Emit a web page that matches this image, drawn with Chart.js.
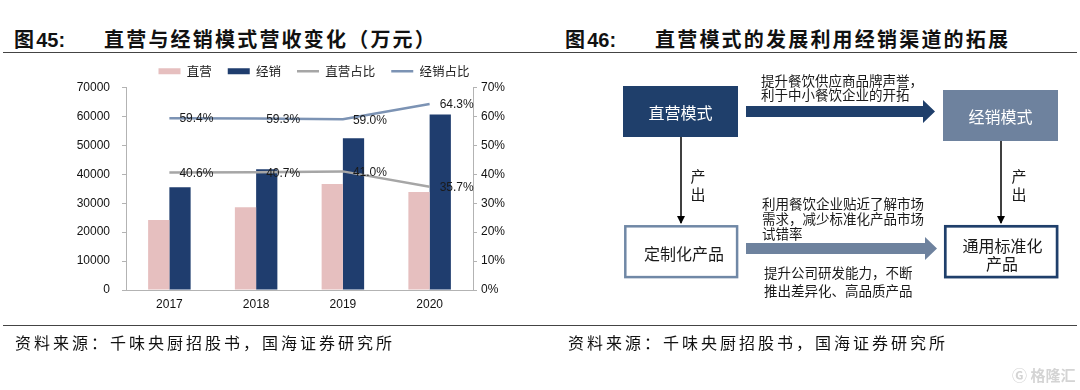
<!DOCTYPE html>
<html>
<head>
<meta charset="utf-8">
<script src="https://cdn.jsdelivr.net/npm/chart.js@4.4.1/dist/chart.umd.min.js"></script>
<style>
  html, body { margin: 0; padding: 0; background: #fff; }
  #page { position: relative; width: 1080px; height: 390px; overflow: hidden; font-family: "Noto Sans CJK SC", sans-serif; }
  .title { position: absolute; top: 26px; font-size: 20px; font-weight: bold; color: #111; letter-spacing: 2.2px; line-height: 26px; white-space: nowrap; }
  .title .num { font-family: "Liberation Sans", Arial, sans-serif; letter-spacing: 0; }
  .rule { position: absolute; left: 3px; width: 1074px; height: 0; border-top: 1.5px solid #444; }
  .src { position: absolute; top: 331px; font-size: 16px; letter-spacing: 3px; color: #111; line-height: 22px; white-space: nowrap; }
  .wm { position: absolute; left: 1012px; top: 364px; font-size: 15px; color: #d4d4d4; font-weight: bold; }
  #chartBox { position: absolute; left: 0; top: 0; width: 588px; height: 320px; }
  #diagram { position: absolute; left: 0; top: 0; }
</style>
</head>
<body>
<div id="page">
  <div class="title" style="left:14px"><span>图</span><span class="num">45:</span></div>
  <div class="title" style="left:104px">直营与经销模式营收变化（万元）</div>
  <div class="title" style="left:565px"><span>图</span><span class="num">46:</span></div>
  <div class="title" style="left:655px">直营模式的发展利用经销渠道的拓展</div>
  <div class="rule" style="top:52px"></div>
  <div class="rule" style="top:325px"></div>

  <div id="chartBox"><canvas id="chart"></canvas></div>

  <svg id="diagram" width="1080" height="390" font-family="Noto Sans CJK SC, sans-serif">
    <defs>
      <marker id="head" markerWidth="8" markerHeight="8" refX="7" refY="4" orient="auto" markerUnits="userSpaceOnUse">
        <path d="M0,0 L8,4 L0,8 z" fill="#000"/>
      </marker>
    </defs>
    <rect x="623" y="86" width="115" height="51" fill="#1f3f6b"/>
    <text x="680.5" y="112" fill="#fff" font-size="16" text-anchor="middle" dominant-baseline="central">直营模式</text>
    <rect x="943" y="90" width="115" height="51" fill="#6e829e"/>
    <text x="1000.5" y="116" fill="#fff" font-size="16" text-anchor="middle" dominant-baseline="central">经销模式</text>

    <polygon points="746,106 923,106 923,100 935,111.5 923,123 923,117 746,117" fill="#1f3f6b"/>
    <g font-size="13.5" fill="#1a1a1a" dominant-baseline="central">
      <text x="761" y="80">提升餐饮供应商品牌声誉，</text>
      <text x="761" y="94">利于中小餐饮企业的开拓</text>
      <text x="762" y="203">利用餐饮企业贴近了解市场</text>
      <text x="762" y="218">需求，减少标准化产品市场</text>
      <text x="762" y="233">试错率</text>
      <text x="764" y="272">提升公司研发能力，不断</text>
      <text x="764" y="290">推出差异化、高品质产品</text>
    </g>

    <line x1="681" y1="137" x2="681" y2="223" stroke="#000" stroke-width="1.5" marker-end="url(#head)"/>
    <line x1="1001" y1="141" x2="1001" y2="223" stroke="#000" stroke-width="1.5" marker-end="url(#head)"/>
    <g font-size="15" fill="#1a1a1a" text-anchor="middle" dominant-baseline="central">
      <text x="698" y="175">产</text>
      <text x="698" y="193">出</text>
      <text x="1019" y="175">产</text>
      <text x="1019" y="193">出</text>
    </g>

    <rect x="625.3" y="226.3" width="111.8" height="50.8" fill="#fff" stroke="#7088a6" stroke-width="2.5"/>
    <text x="684" y="253" fill="#1a1a1a" font-size="16" text-anchor="middle" dominant-baseline="central">定制化产品</text>
    <rect x="945.3" y="226.3" width="111.8" height="50.8" fill="#fff" stroke="#1f3f6b" stroke-width="2.7"/>
    <g fill="#1a1a1a" font-size="16" text-anchor="middle" dominant-baseline="central">
      <text x="1002.5" y="245">通用标准化</text>
      <text x="1002" y="263">产品</text>
    </g>

    <polygon points="746,243 925,243 925,237 937,248.5 925,260 925,254 746,254" fill="#6e829e"/>
  </svg>

  <div class="src" style="left:15px">资料来源：千味央厨招股书，国海证券研究所</div>
  <div class="src" style="left:568px">资料来源：千味央厨招股书，国海证券研究所</div>
  <div class="wm">Ⓖ 格隆汇</div>
</div>

<script>
// values (万元 / %)
var years = ['2017', '2018', '2019', '2020'];
var directSales = [24200, 28600, 36600, 33900];
var distribSales = [35500, 41700, 52500, 60700];
var directShare = [40.6, 40.7, 41.0, 35.7];
var distribShare = [59.4, 59.3, 59.0, 64.3];
var leftTicks = [0, 10000, 20000, 30000, 40000, 50000, 60000, 70000];
var rightTicks = [0, 10, 20, 30, 40, 50, 60, 70];

var axisColor = '#b3b3b3';
var tickFont = { family: 'Liberation Sans, Arial, sans-serif', size: 12 };

// percent labels to the right of each line point
var shareLabels = {
  id: 'shareLabels',
  afterDatasetsDraw: function(chart) {
    var ctx = chart.ctx;
    ctx.save();
    ctx.font = '12px "Liberation Sans", Arial, sans-serif';
    ctx.fillStyle = '#1a1a1a';
    ctx.textAlign = 'left';
    ctx.textBaseline = 'middle';
    chart.data.datasets.forEach(function(ds, i) {
      if (ds.type !== 'line') return;
      chart.getDatasetMeta(i).data.forEach(function(pt, j) {
        ctx.fillText(ds.data[j].toFixed(1) + '%', pt.x + 10, pt.y + 1);
      });
    });
    ctx.restore();
  }
};

var ctx = document.getElementById('chart').getContext('2d');
var chart = new Chart(ctx, {
  type: 'bar',
  data: {
    labels: years,
    datasets: [
      { label: '直营', data: directSales, backgroundColor: '#e6bfbf', borderWidth: 0, pointStyle: 'rect', order: 2, yAxisID: 'y' },
      { label: '经销', data: distribSales, backgroundColor: '#1f3d6e', borderWidth: 0, pointStyle: 'rect', order: 2, yAxisID: 'y' },
      { type: 'line', label: '直营占比', data: directShare, borderColor: '#a6a6a6', backgroundColor: '#a6a6a6', borderWidth: 2.5, pointRadius: 0, pointStyle: 'line', order: 1, yAxisID: 'y1' },
      { type: 'line', label: '经销占比', data: distribShare, borderColor: '#7c93b4', backgroundColor: '#7c93b4', borderWidth: 2.5, pointRadius: 0, pointStyle: 'line', order: 1, yAxisID: 'y1' }
    ]
  },
  options: {
    responsive: true,
    maintainAspectRatio: false,
    animation: false,
    layout: { padding: { left: 40, top: 49, right: 0, bottom: 0 } },
    datasets: { bar: { categoryPercentage: 0.49, barPercentage: 1 } },
    plugins: {
      legend: {
        position: 'top',
        labels: {
          usePointStyle: true,
          pointStyleWidth: 22,
          boxHeight: 6,
          padding: 16,
          color: '#222',
          font: { family: 'Noto Sans CJK SC', size: 12.5 },
          sort: function(a, b) { return a.datasetIndex - b.datasetIndex; }
        }
      },
      tooltip: { enabled: false }
    },
    scales: {
      x: {
        afterFit: function(s) { s.height = 30; },
        grid: { display: true, drawOnChartArea: false, drawTicks: false },
        border: { color: axisColor, width: 1 },
        ticks: { color: '#111', font: tickFont, padding: 7 }
      },
      y: {
        position: 'left',
        min: 0, max: 70000,
        afterFit: function(s) { s.width = 86; },
        afterBuildTicks: function(s) { s.ticks = leftTicks.map(function(v) { return { value: v }; }); },
        grid: { display: true, drawOnChartArea: false, tickLength: 4, color: axisColor },
        border: { color: axisColor, width: 1 },
        ticks: { color: '#111', font: tickFont, padding: 12, callback: function(v) { return String(v); } }
      },
      y1: {
        position: 'right',
        min: 0, max: 70,
        afterFit: function(s) { s.width = 115; },
        afterBuildTicks: function(s) { s.ticks = rightTicks.map(function(v) { return { value: v }; }); },
        grid: { display: true, drawOnChartArea: false, tickLength: 4, color: axisColor },
        border: { color: axisColor, width: 1 },
        ticks: { color: '#111', font: tickFont, padding: 4, callback: function(v) { return v + '%'; } }
      }
    }
  },
  plugins: [shareLabels]
});
</script>
</body>
</html>
